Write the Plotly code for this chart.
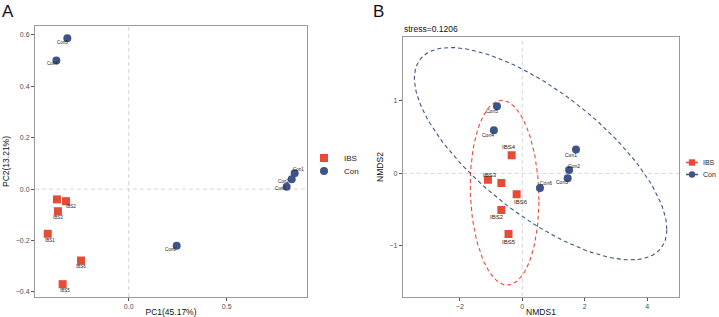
import numpy as np
import plotly.graph_objects as go

# ---------------- data ----------------
# Panel A: PCoA
pcoa_labels = ["IBS4", "IBS2", "IBS3", "IBS1", "IBS6", "IBS5",
               "Con5", "Con4", "Con1", "Con2", "Con3", "Con6"]
pcoa_group = ["IBS"] * 6 + ["Con"] * 6
pcoa_pc1 = [-0.366, -0.320, -0.361, -0.413, -0.243, -0.337,
            -0.313, -0.369, 0.847, 0.832, 0.806, 0.245]
pcoa_pc2 = [-0.040, -0.047, -0.086, -0.174, -0.278, -0.370,
            0.587, 0.501, 0.062, 0.038, 0.009, -0.220]
pcoa_show_label = [False, True, True, True, True, True,
                   True, True, True, True, True, True]

# Panel B: NMDS
nmds_labels = ["IBS3", "IBS1", "IBS4", "IBS6", "IBS2", "IBS5",
               "Con5", "Con4", "Con1", "Con2", "Con3", "Con6"]
nmds_group = ["IBS"] * 6 + ["Con"] * 6
nmds_x = [-1.10, -0.67, -0.34, -0.18, -0.67, -0.44,
          -0.81, -0.91, 1.72, 1.50, 1.455, 0.567]
nmds_y = [-0.088, -0.134, 0.25, -0.29, -0.507, -0.84,
          0.927, 0.595, 0.33, 0.046, -0.069, -0.203]
nmds_show_label = [True, False, True, True, True, True,
                   True, True, True, True, True, True]
stress_value = 0.1206

groups = ["IBS", "Con"]
pcoa_axis_titles = ["PC1(45.17%)", "PC2(13.21%)"]
nmds_axis_titles = ["NMDS1", "NMDS2"]
pcoa_xticks = [0.0, 0.5]
pcoa_yticks = [-0.4, -0.2, 0.0, 0.2, 0.4, 0.6]
nmds_xticks = [-2, 0, 2, 4]
nmds_yticks = [-1, 0, 1]

# ---------------- styles ----------------
colors = {"IBS": "#E64B35", "Con": "#3C5488"}
symbols = {"IBS": "square", "Con": "circle"}
# label pixel offsets (dx right, dy down)
pcoa_offsets = {"IBS2": (5, 5), "IBS3": (0, 6), "IBS1": (2, 7), "IBS6": (0, 6), "IBS5": (2, 6),
                "Con5": (-5, 4), "Con4": (-4, 3), "Con1": (4, -4), "Con2": (-8, 2),
                "Con3": (-6, 2), "Con6": (-6, 4)}
nmds_offsets = {"IBS3": (2, -5), "IBS4": (-3, -8), "IBS6": (4, 8), "IBS2": (-4, 7), "IBS5": (0, 8),
                "Con5": (-5, 5), "Con4": (-6, 5), "Con1": (-5, 6), "Con2": (5, -4),
                "Con3": (-6, 4), "Con6": (6, -5)}
# legend item centre rows (pixels from top)
legA_rows = {"IBS": 158, "Con": 171}
legB_rows = {"IBS": 162.5, "Con": 174.5}

W, H = 719, 317
def fx(px):
    return px / W
def fy(py):
    return 1 - py / H

fig = go.Figure()

# ---- Panel A points ----
legA_names = {"IBS": "legend", "Con": "legend2"}
for g in groups:
    idx = [i for i, gg in enumerate(pcoa_group) if gg == g]
    fig.add_trace(go.Scatter(
        x=[pcoa_pc1[i] for i in idx], y=[pcoa_pc2[i] for i in idx],
        mode="markers", name=g, legend=legA_names[g],
        marker=dict(symbol=symbols[g], size=8, color=colors[g]),
        xaxis="x", yaxis="y", hoverinfo="skip"))

# ---- Panel B ellipses (95% normal-theory ellipse, like stat_ellipse) ----
def ellipse(xs, ys, level=0.95, segments=120):
    pts = np.column_stack([xs, ys])
    n = len(xs)
    center = pts.mean(axis=0)
    cov = np.cov(pts, rowvar=False)
    dfd = n - 1
    fq = (dfd / 2.0) * ((1 - level) ** (-2.0 / dfd) - 1)  # qf(level, 2, dfd)
    radius = np.sqrt(2 * fq)
    t = np.linspace(0, 2 * np.pi, segments)
    circle = np.column_stack([np.cos(t), np.sin(t)])
    U = np.linalg.cholesky(cov).T
    e = center + radius * circle @ U
    return e[:, 0], e[:, 1]

for g in groups:
    idx = [i for i, gg in enumerate(nmds_group) if gg == g]
    ex, ey = ellipse([nmds_x[i] for i in idx], [nmds_y[i] for i in idx])
    fig.add_trace(go.Scatter(
        x=ex, y=ey, mode="lines", showlegend=False,
        line=dict(color=colors[g], width=1.1, dash="4px,3px"),
        xaxis="x2", yaxis="y2", hoverinfo="skip"))

for g in groups:
    idx = [i for i, gg in enumerate(nmds_group) if gg == g]
    fig.add_trace(go.Scatter(
        x=[nmds_x[i] for i in idx], y=[nmds_y[i] for i in idx],
        mode="markers", name=g, showlegend=False,
        marker=dict(symbol=symbols[g], size=8, color=colors[g]),
        xaxis="x2", yaxis="y2", hoverinfo="skip"))

# ---- point labels ----
ann = []
for lab, x, y, show in zip(pcoa_labels, pcoa_pc1, pcoa_pc2, pcoa_show_label):
    if not show:
        continue
    dx, dy = pcoa_offsets[lab]
    ann.append(dict(x=x, y=y, xref="x", yref="y", text=lab, showarrow=False,
                    xshift=dx, yshift=-dy, font=dict(size=4.5, color="#222222",
                                                     family="Liberation Sans")))
for lab, x, y, show in zip(nmds_labels, nmds_x, nmds_y, nmds_show_label):
    if not show:
        continue
    dx, dy = nmds_offsets[lab]
    size = 6 if lab.startswith("IBS") else 5
    ann.append(dict(x=x, y=y, xref="x2", yref="y2", text=lab, showarrow=False,
                    xshift=dx, yshift=-dy, font=dict(size=size, color="#222222",
                                                     family="Liberation Sans")))

# panel letters, stress
ann.append(dict(x=fx(0), y=fy(0), xref="paper", yref="paper", text="A", showarrow=False,
                xanchor="left", yanchor="top", font=dict(size=17, color="#111111")))
ann.append(dict(x=fx(371), y=fy(0), xref="paper", yref="paper", text="B", showarrow=False,
                xanchor="left", yanchor="top", font=dict(size=17, color="#111111")))
ann.append(dict(x=fx(402), y=fy(29), xref="paper", yref="paper",
                text="stress=%.4f" % stress_value, showarrow=False,
                xanchor="left", yanchor="middle", font=dict(size=8.5, color="#111111")))

# dashed zero lines
shapes = []
for xa, ya in [("x", "y"), ("x2", "y2")]:
    shapes.append(dict(type="line", xref=xa, yref=ya + " domain", x0=0, x1=0, y0=0, y1=1,
                       line=dict(color="#d6d6d6", width=1, dash="4px,3px"), layer="below"))
    shapes.append(dict(type="line", xref=xa + " domain", yref=ya, x0=0, x1=1, y0=0, y1=0,
                       line=dict(color="#d6d6d6", width=1, dash="4px,3px"), layer="below"))

# ---- Panel B legend keys (line + point), drawn as layout decoration ----
kx0, kx1, kc, ks = 686, 698, 692, 3.2
for g in groups:
    yy = legB_rows[g]
    shapes.append(dict(type="line", xref="paper", yref="paper",
                       x0=fx(kx0), x1=fx(kx1), y0=fy(yy), y1=fy(yy),
                       line=dict(color=colors[g], width=1.5)))
    shapes.append(dict(type="rect" if symbols[g] == "square" else "circle",
                       xref="paper", yref="paper",
                       x0=fx(kc - ks), x1=fx(kc + ks), y0=fy(yy + ks), y1=fy(yy - ks),
                       line=dict(width=0), fillcolor=colors[g]))
    ann.append(dict(x=fx(701), y=fy(yy), xref="paper", yref="paper", text=g,
                    showarrow=False, xanchor="left", yanchor="middle",
                    font=dict(size=7, color="#222222")))

axis_common = dict(showline=True, mirror=True, linecolor="#9a9a9a", linewidth=1,
                   showgrid=False, zeroline=False, ticks="outside", ticklen=3,
                   tickcolor="#555555", tickwidth=1,
                   tickfont=dict(size=7, color="#4d4d4d"))
title_font = dict(size=8.5, color="#111111")

def leg(xpx, ypx):
    return dict(x=fx(xpx), y=fy(ypx), xanchor="left", yanchor="middle",
                font=dict(size=8, color="#222222"), bgcolor="rgba(0,0,0,0)",
                itemwidth=30, tracegroupgap=0, borderwidth=0)

fig.update_layout(
    width=W, height=H, margin=dict(l=0, r=0, t=0, b=0, autoexpand=False),
    paper_bgcolor="white", plot_bgcolor="white",
    font=dict(family="Liberation Sans"),
    xaxis=dict(domain=[fx(35), fx(307)], range=[-0.478, 0.91], tickvals=pcoa_xticks,
               ticktext=["0.0", "0.5"], anchor="y",
               title=dict(text=pcoa_axis_titles[0], font=title_font, standoff=4), **axis_common),
    yaxis=dict(domain=[fy(297), fy(26)], range=[-0.42, 0.635], tickvals=pcoa_yticks,
               ticktext=["\u22120.4", "\u22120.2", "0.0", "0.2", "0.4", "0.6"], anchor="x",
               title=dict(text=pcoa_axis_titles[1], font=title_font, standoff=4), **axis_common),
    xaxis2=dict(domain=[fx(402.7), fx(679.3)], range=[-3.83, 5.03], tickvals=nmds_xticks,
                ticktext=["\u22122", "0", "2", "4"], anchor="y2",
                title=dict(text=nmds_axis_titles[0], font=title_font, standoff=4), **axis_common),
    yaxis2=dict(domain=[fy(296.7), fy(37.3)], range=[-1.705, 1.88], tickvals=nmds_yticks,
                ticktext=["\u22121", "0", "1"], anchor="x2",
                title=dict(text=nmds_axis_titles[1], font=title_font, standoff=4), **axis_common),
    legend=leg(304, legA_rows["IBS"]),
    legend2=leg(304, legA_rows["Con"]),
    annotations=ann, shapes=shapes,
)

fig.write_html("out.html", config={"displayModeBar": False},
               post_script="document.body.style.margin='0';")
